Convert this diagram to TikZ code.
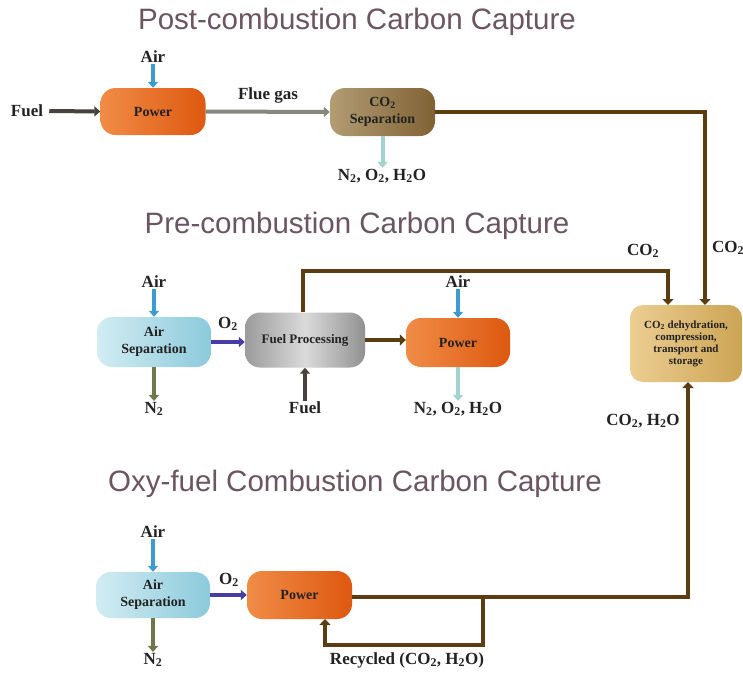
\documentclass[tikz,border=0pt]{standalone}
\usepackage{fontspec}
\setmainfont{Liberation Serif}
\newfontfamily\titlefont{Liberation Sans}
\usetikzlibrary{arrows.meta}
\definecolor{titlecol}{HTML}{6A5560}
\definecolor{brownline}{HTML}{5C3D12}
\definecolor{txtcol}{HTML}{222222}
\tikzset{
  ttl/.style={font=\titlefont\fontsize{29.5}{32}\selectfont, text=titlecol, inner sep=0pt},
  lbl/.style={font=\bfseries\fontsize{17}{19}\selectfont, text=txtcol, inner sep=1pt},
  boxtxt/.style={font=\bfseries\fontsize{14}{17}\selectfont, text=txtcol, align=center},
  procbox/.style={rounded corners=15pt, inner sep=2pt, boxtxt},
  pw/.style={procbox, left color={rgb,255:red,240;green,140;blue,70}, right color={rgb,255:red,222;green,88;blue,16}},
  sepbox/.style={procbox, left color={rgb,255:red,178;green,156;blue,116}, right color={rgb,255:red,128;green,98;blue,52}},
  airsep/.style={procbox, left color={rgb,255:red,210;green,236;blue,242}, right color={rgb,255:red,140;green,202;blue,220}},
  fuelproc/.style={procbox, left color={rgb,255:red,155;green,155;blue,155}, right color={rgb,255:red,145;green,145;blue,145}, middle color={rgb,255:red,218;green,218;blue,218}},
  storebox/.style={procbox, rounded corners=13pt, left color={rgb,255:red,236;green,206;blue,146}, right color={rgb,255:red,204;green,164;blue,84}},
  arr/.style={line width=4pt, -{Triangle[length=6pt,width=10pt]}},
  fuelarr/.style={arr, draw={rgb,255:red,70;green,66;blue,62}},
  airarr/.style={arr, draw={rgb,255:red,60;green,155;blue,208}},
  tealarr/.style={arr, draw={rgb,255:red,160;green,212;blue,204}},
  n2arr/.style={arr, draw={rgb,255:red,110;green,120;blue,75}},
  o2arr/.style={arr, draw={rgb,255:red,72;green,60;blue,165}},
  fluearr/.style={arr, draw={rgb,255:red,135;green,135;blue,128}},
  brarr/.style={line width=4.5pt, draw=brownline, -{Triangle[length=6pt,width=11pt]}},
  brline/.style={line width=4.5pt, draw=brownline},
}
\begin{document}
\begin{tikzpicture}[x=1pt,y=-1pt]
\useasboundingbox (0,0) rectangle (743,672);
\fill[white] (0,0) rectangle (743,672);

% titles
\node[ttl] (t1) at (357,22) {Post-combustion Carbon Capture};
\node[ttl] (t2) at (357,226) {Pre-combustion Carbon Capture};
\node[ttl] (t3) at (355,484) {Oxy-fuel Combustion Carbon Capture};

% boxes
\node[pw, minimum width=105pt, minimum height=47pt] (pw1) at (153,111.5) {Power};
\node[sepbox, minimum width=105pt, minimum height=48pt] (sep) at (382.5,112) {CO\textsubscript{2}\\Separation};
\node[airsep, minimum width=114pt, minimum height=50pt] (as2) at (154,342) {Air\\Separation};
\node[fuelproc, minimum width=120pt, minimum height=55pt, font=\bfseries\fontsize{13}{14}\selectfont] (fp) at (305,340) {Fuel Processing};
\node[pw, minimum width=104pt, minimum height=49pt] (pw2) at (458,342.5) {Power};
\node[storebox, minimum width=112pt, minimum height=77pt, font=\bfseries\fontsize{11}{12}\selectfont] (st) at (686,343.5) {CO\textsubscript{2} dehydration,\\compression,\\transport and\\storage};
\node[airsep, minimum width=114pt, minimum height=46pt] (as3) at (153,595) {Air\\Separation};
\node[pw, minimum width=105pt, minimum height=48pt] (pw3) at (299.5,595) {Power};

% labels
\node[lbl] (fuel1) at (27,111) {Fuel};
\node[lbl] (air1) at (153,57) {Air};
\node[lbl] (flue) at (268,95) {Flue gas};
\node[lbl] (out1) at (382,176) {N\textsubscript{2}, O\textsubscript{2}, H\textsubscript{2}O};
\node[lbl] (co2a) at (643,251) {CO\textsubscript{2}};
\node[lbl] (co2b) at (728,248) {CO\textsubscript{2}};
\node[lbl] (air2) at (154,282) {Air};
\node[lbl] (n2a) at (154,409) {N\textsubscript{2}};
\node[lbl] (o2a) at (228,324) {O\textsubscript{2}};
\node[lbl] (fuel2) at (305,408) {Fuel};
\node[lbl] (air3) at (458,282) {Air};
\node[lbl] (out2) at (458,409) {N\textsubscript{2}, O\textsubscript{2}, H\textsubscript{2}O};
\node[lbl] (co2h2o) at (643,421) {CO\textsubscript{2}, H\textsubscript{2}O};
\node[lbl] (air4) at (153,532) {Air};
\node[lbl] (n2b) at (153,660) {N\textsubscript{2}};
\node[lbl] (o2b) at (229,580) {O\textsubscript{2}};
\node[lbl] (rec) at (407,660) {Recycled (CO\textsubscript{2}, H\textsubscript{2}O)};

% coordinates
\coordinate (c1) at (705,112);
\coordinate (c2) at (303,271);
\coordinate (c3) at (668,271);
\coordinate (c4) at (668,305);
\coordinate (c5) at (705,305);
\coordinate (c6) at (688,597);
\coordinate (c7) at (688,382);
\coordinate (r1) at (483,597);
\coordinate (r2) at (483,645);
\coordinate (r3) at (325,645);
\coordinate (r4) at (325,619);

% post-combustion
\draw[fuelarr] (fuel1.east) ++(5,0) -- (pw1.west);
\draw[airarr] (air1.south -| pw1.north) -- (pw1.north);
\draw[fluearr] (pw1.east) -- (sep.west);
\draw[tealarr] (sep.south) -- (out1.north -| sep.south);
\draw[brarr] (sep.east) -- (c1) -- (c5);

% pre-combustion
\draw[airarr] (air2.south -| as2.north) -- (as2.north);
\draw[n2arr] (as2.south) -- (n2a.north -| as2.south);
\draw[o2arr] (as2.east) -- (as2.east -| fp.west);
\draw[fuelarr] (fuel2.north) -- (fp.south);
\draw[brarr] (fp.east) -- (fp.east -| pw2.west);
\draw[airarr] (air3.south -| pw2.north) -- (pw2.north);
\draw[tealarr] (pw2.south) -- (out2.north -| pw2.south);
\draw[brarr] (fp.north -| c2) -- (c2) -- (c3) -- (c4);

% oxy-fuel
\draw[airarr] (air4.south -| as3.north) -- (as3.north);
\draw[n2arr] (as3.south) -- (n2b.north -| as3.south);
\draw[o2arr] (as3.east) -- (as3.east -| pw3.west);
\draw[brline] (pw3.east |- r1) -- (r1);
\draw[brarr] (r1) -- (c6) -- (c7);
\draw[brarr] (r1) -- (r2) -- (r3) -- (r4);
\end{tikzpicture}
\end{document}
